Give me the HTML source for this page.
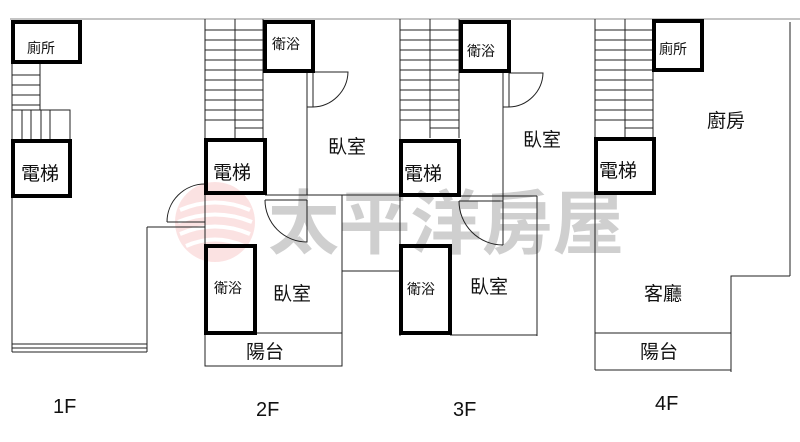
<!DOCTYPE html>
<html><head><meta charset="utf-8"><style>
html,body{margin:0;padding:0;background:#fff;}
svg{display:block;}
text{font-family:"Liberation Sans","Noto Sans CJK TC",sans-serif;fill:#111;}
</style></head><body>
<svg width="800" height="442" viewBox="0 0 800 442" xmlns="http://www.w3.org/2000/svg">
<g opacity="0.3">
<circle cx="215" cy="222" r="40" fill="#f3a0a0"/>
<path d="M180 210 Q215 195 250 210 M178 222 Q215 207 252 222 M180 234 Q215 219 250 234 M186 246 Q215 233 244 246" stroke="#fff" stroke-width="4" fill="none"/>
</g>
<text x="268" y="248" font-family="'Noto Serif CJK SC',serif" font-size="70" font-weight="bold" style="fill:#cfcfcf" textLength="356" lengthAdjust="spacingAndGlyphs">太平洋房屋</text>

<g stroke="#222" stroke-width="1" fill="none">
<line x1="10" y1="19" x2="800" y2="19" stroke="#888"/>
<!-- 1F -->
<line x1="12" y1="62" x2="12" y2="352"/>
<line x1="40" y1="62" x2="40" y2="110"/>
<line x1="12" y1="75" x2="40" y2="75"/><line x1="12" y1="85" x2="40" y2="85"/><line x1="12" y1="95" x2="40" y2="95"/><line x1="12" y1="105" x2="40" y2="105"/>
<rect x="12" y="110" width="58" height="30"/>
<line x1="22" y1="110" x2="22" y2="140"/><line x1="31" y1="110" x2="31" y2="140"/><line x1="41" y1="110" x2="41" y2="140"/><line x1="50" y1="110" x2="50" y2="140"/>
<line x1="12" y1="344" x2="147" y2="344"/><line x1="12" y1="348" x2="147" y2="348"/><line x1="12" y1="352" x2="147" y2="352"/>
<line x1="147" y1="227" x2="147" y2="352"/>
<line x1="147" y1="227" x2="167" y2="227"/>
<line x1="167" y1="222" x2="205" y2="222"/><line x1="167" y1="227" x2="205" y2="227"/>
<path d="M167 222 A38 38 0 0 1 205 184"/>
<!-- 2F -->
<line x1="205" y1="19" x2="205" y2="366"/>
<line x1="235" y1="19" x2="235" y2="138"/>
<line x1="263" y1="19" x2="263" y2="138"/>
<line x1="205" y1="30" x2="263" y2="30"/><line x1="205" y1="40" x2="263" y2="40"/><line x1="205" y1="50" x2="263" y2="50"/><line x1="205" y1="60" x2="263" y2="60"/><line x1="205" y1="70" x2="263" y2="70"/><line x1="205" y1="80" x2="263" y2="80"/><line x1="205" y1="90" x2="263" y2="90"/><line x1="205" y1="100" x2="263" y2="100"/><line x1="205" y1="110" x2="263" y2="110"/><line x1="205" y1="120" x2="263" y2="120"/><line x1="235" y1="128" x2="263" y2="128"/>
<line x1="307" y1="72" x2="307" y2="195"/><line x1="313" y1="72" x2="313" y2="107"/>
<line x1="307" y1="107" x2="313" y2="107"/>
<path d="M313 107 A36 36 0 0 0 348 72 L313 72"/>
<line x1="265" y1="195" x2="400" y2="195"/><line x1="265" y1="200" x2="307" y2="200"/>
<path d="M265 200 A42 42 0 0 0 307 242 L307 200"/>
<line x1="342" y1="195" x2="342" y2="366"/>
<line x1="342" y1="271" x2="400" y2="271"/>
<rect x="205" y="333" width="137" height="33"/>
<!-- 3F -->
<line x1="400" y1="19" x2="400" y2="336"/>
<line x1="430" y1="19" x2="430" y2="138"/>
<line x1="459" y1="19" x2="459" y2="138"/>
<line x1="400" y1="30" x2="459" y2="30"/><line x1="400" y1="40" x2="459" y2="40"/><line x1="400" y1="50" x2="459" y2="50"/><line x1="400" y1="60" x2="459" y2="60"/><line x1="400" y1="70" x2="459" y2="70"/><line x1="400" y1="80" x2="459" y2="80"/><line x1="400" y1="90" x2="459" y2="90"/><line x1="400" y1="100" x2="459" y2="100"/><line x1="400" y1="110" x2="459" y2="110"/><line x1="400" y1="120" x2="459" y2="120"/><line x1="430" y1="128" x2="459" y2="128"/>
<line x1="503" y1="72" x2="503" y2="245"/><line x1="509" y1="72" x2="509" y2="107"/>
<line x1="503" y1="107" x2="509" y2="107"/>
<path d="M509 107 A35 35 0 0 0 543 73 L509 73"/>
<line x1="459" y1="196" x2="537" y2="196"/><line x1="459" y1="201" x2="503" y2="201"/>
<path d="M459 201 A44 44 0 0 0 503 245"/>
<line x1="537" y1="196" x2="537" y2="336"/>
<line x1="450" y1="335" x2="537" y2="335"/>
<!-- 4F -->
<line x1="595" y1="19" x2="595" y2="370"/>
<line x1="625" y1="19" x2="625" y2="138"/>
<line x1="653" y1="19" x2="653" y2="138"/>
<line x1="595" y1="30" x2="653" y2="30"/><line x1="595" y1="40" x2="653" y2="40"/><line x1="595" y1="50" x2="653" y2="50"/><line x1="595" y1="60" x2="653" y2="60"/><line x1="595" y1="70" x2="653" y2="70"/><line x1="595" y1="80" x2="653" y2="80"/><line x1="595" y1="90" x2="653" y2="90"/><line x1="595" y1="100" x2="653" y2="100"/><line x1="595" y1="110" x2="653" y2="110"/><line x1="595" y1="120" x2="653" y2="120"/><line x1="625" y1="128" x2="653" y2="128"/>
<line x1="790" y1="22" x2="790" y2="276"/>
<polyline points="790,276 731,276 731,372"/>
<line x1="595" y1="333" x2="731" y2="333"/>
<line x1="595" y1="370" x2="731" y2="370"/>
</g>

<g stroke="#000" stroke-width="4" fill="none">
<rect x="13" y="22" width="67" height="40"/>
<rect x="13" y="141" width="57" height="55"/>
<rect x="265" y="22" width="48" height="49"/>
<rect x="206" y="140" width="59" height="53"/>
<rect x="206" y="246" width="49" height="87"/>
<rect x="461" y="22" width="48" height="49"/>
<rect x="401" y="141" width="58" height="54"/>
<rect x="401" y="246" width="49" height="87"/>
<rect x="654" y="21" width="48" height="49"/>
<rect x="596" y="139" width="58" height="54"/>
</g>

<g font-size="14">
<text x="27" y="53">廁所</text>
<text x="272" y="49">衛浴</text>
<text x="467" y="56">衛浴</text>
<text x="659" y="54">廁所</text>
<text x="214" y="293">衛浴</text>
<text x="407" y="294">衛浴</text>
</g>
<g font-size="19">
<text x="21" y="180">電梯</text>
<text x="213" y="179">電梯</text>
<text x="404" y="180">電梯</text>
<text x="599" y="177">電梯</text>
<text x="328" y="153">臥室</text>
<text x="523" y="146">臥室</text>
<text x="707" y="127">廚房</text>
<text x="273" y="300">臥室</text>
<text x="470" y="293">臥室</text>
<text x="644" y="300">客廳</text>
<text x="246" y="358">陽台</text>
<text x="640" y="358">陽台</text>
</g>
<g font-size="20">
<text x="53" y="413">1F</text>
<text x="256" y="416">2F</text>
<text x="453" y="416">3F</text>
<text x="655" y="410">4F</text>
</g>
</svg>
</body></html>
